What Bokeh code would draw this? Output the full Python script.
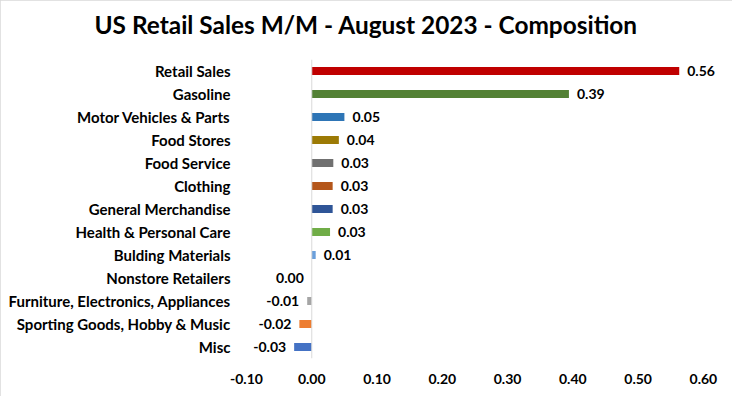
from bokeh.plotting import figure
from bokeh.models import FactorRange, Range1d, Span, FixedTicker, NumeralTickFormatter, ColumnDataSource, Title
from bokeh.core.properties import value
from bokeh.embed import file_html
from bokeh.resources import INLINE

categories = ["Retail Sales", "Gasoline", "Motor Vehicles & Parts", "Food Stores", "Food Service",
              "Clothing", "General Merchandise", "Health & Personal Care", "Bulding Materials",
              "Nonstore Retailers", "Furniture, Electronics, Appliances",
              "Sporting Goods, Hobby & Music", "Misc"]
values = [0.563, 0.394, 0.050, 0.0415, 0.033, 0.032, 0.032, 0.028, 0.006, 0.0, -0.007, -0.019, -0.027]
colors = ["#C00000", "#538135", "#2E75B6", "#9C7A05", "#707070", "#B4561A", "#2F5597",
          "#70AD47", "#6A9FDB", "#FFC000", "#A5A5A5", "#ED7D31", "#4472C4"]
x_ticks = [-0.1, 0.0, 0.1, 0.2, 0.3, 0.4, 0.5, 0.6]
title_text = "US Retail Sales M/M - August 2023 - Composition"

FONT = "Lato"

p = figure(width=732, height=396, output_backend="svg", toolbar_location=None,
           y_range=FactorRange(factors=list(reversed(categories))),
           x_range=Range1d(-0.1, 0.64),
           min_border_left=246, min_border_right=3, min_border_top=59, min_border_bottom=38)
p.outline_line_color = None
p.xgrid.visible = False
p.ygrid.visible = False
p.background_fill_color = "white"
p.border_fill_color = "white"
p.styles = {"outline": "1px solid #D9D9D9", "outline-offset": "-1px"}

# spacer panel between the frame and the title
p.add_layout(Title(text=" ", text_font_size="1px", standoff=13), "above")

p.title.text = title_text
p.title.align = "left"
p.title.offset = -152
p.title.text_font = FONT
p.title.text_font_style = "bold"
p.title.text_font_size = "24.4px"
p.title.text_color = "black"

src = ColumnDataSource(dict(cat=categories, val=values, color=colors))
p.hbar(y="cat", left=0, right="val", height=0.35, fill_color="color", line_color=None, source=src)

p.add_layout(Span(location=0, dimension="height", line_color="#D9D9D9", line_width=1))

pos = dict(cat=[], val=[], txt=[])
neg = dict(cat=[], val=[], txt=[])
for c, v in zip(categories, values):
    d = pos if v > 0 else neg
    d["cat"].append(c)
    d["val"].append(v)
    d["txt"].append(f"{v:.2f}" if abs(v) >= 0.005 else "0.00")

p.text(x="val", y="cat", text="txt", source=ColumnDataSource(pos), x_offset=8,
       text_align="left", text_baseline="middle", text_font=value(FONT),
       text_font_style="bold", text_font_size="14px", text_color="black")
p.text(x="val", y="cat", text="txt", source=ColumnDataSource(neg), x_offset=-8,
       text_align="right", text_baseline="middle", text_font=value(FONT),
       text_font_style="bold", text_font_size="14px", text_color="black")

xa = p.xaxis[0]
xa.ticker = FixedTicker(ticks=x_ticks)
xa.formatter = NumeralTickFormatter(format="0.00")
xa.axis_line_color = None
xa.major_tick_line_color = None
xa.minor_tick_line_color = None
xa.major_tick_out = 0
xa.major_tick_in = 0
xa.major_label_standoff = 15
xa.major_label_text_font = FONT
xa.major_label_text_font_style = "bold"
xa.major_label_text_font_size = "14px"
xa.major_label_text_color = "black"

ya = p.yaxis[0]
ya.axis_line_color = None
ya.major_tick_line_color = None
ya.minor_tick_line_color = None
ya.major_tick_out = 0
ya.major_tick_in = 0
ya.major_label_standoff = 16
ya.major_label_text_font = FONT
ya.major_label_text_font_style = "bold"
ya.major_label_text_font_size = "15px"
ya.major_label_text_color = "black"

open("out.html", "w").write(file_html(p, INLINE))
